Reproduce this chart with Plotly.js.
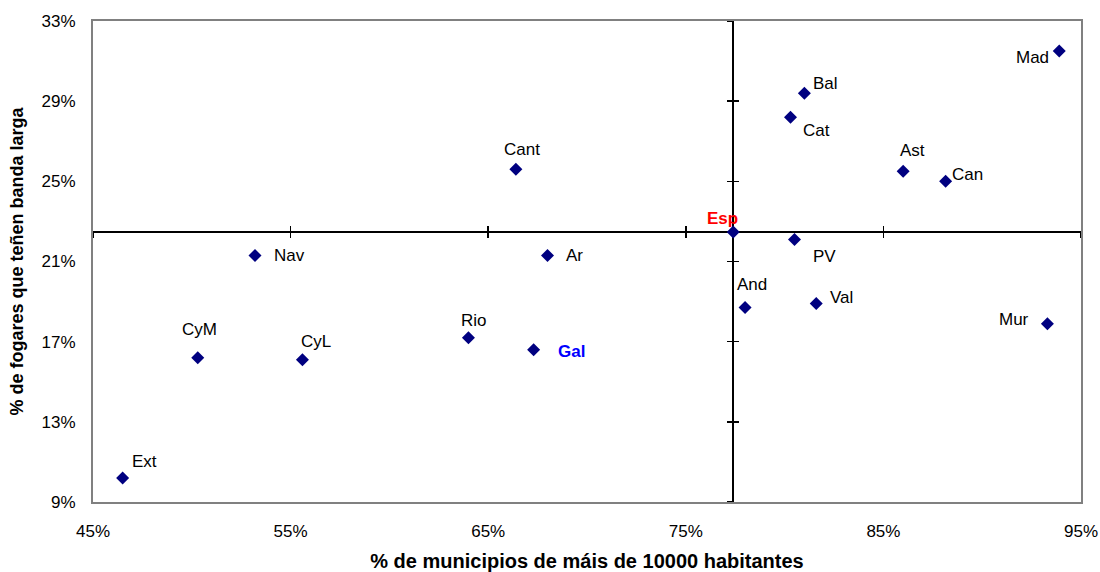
<!DOCTYPE html>
<html>
<head>
<meta charset="utf-8">
<script src="https://cdn.plot.ly/plotly-3.0.1.min.js"></script>
<style>html,body{margin:0;padding:0;background:#fff;}#chart{width:1100px;height:572px;}</style>
</head>
<body>
<div id="chart"></div>
<script>
// ---- data ----
var regions = ["Mad","Bal","Cat","Ast","Can","PV","Cant","Ar","Esp","Nav","CyM","CyL","Ext","Rio","Gal","And","Val","Mur"];
var pctMunicipios = [93.9, 81.0, 80.3, 86.0, 88.15, 80.5, 66.4, 68.0, 77.4, 53.2, 50.3, 55.6, 46.5, 64.0, 67.3, 78.0, 81.6, 93.3];
var pctFogares   = [31.5, 29.4, 28.2, 25.5, 25.0, 22.1, 25.6, 21.3, 22.47, 21.3, 16.2, 16.1, 10.2, 17.2, 16.6, 18.7, 18.9, 17.9];
var xTickVals = [45, 55, 65, 75, 85, 95];
var yTickVals = [9, 13, 17, 21, 25, 29, 33];
var xTitle = "% de municipios de máis de 10000 habitantes";
var yTitle = "% de fogares que teñen banda larga";

// label placement: [xanchor, xshift, yshift]
var labelPos = {
  Mad:["right",-8,-6], Bal:["left",7,10], Cat:["left",10,-13], Ast:["center",9,21],
  Can:["left",4,7], PV:["left",17,-17], Cant:["center",6,20], Ar:["left",17,0],
  Esp:["center",-11,14], Nav:["left",17,0], CyM:["center",2,28], CyL:["center",14,18],
  Ext:["center",22,16], Rio:["center",6,17], Gal:["left",22,-2], And:["center",7,23],
  Val:["left",12,6], Mur:["right",-16,4]
};
var labelStyle = {
  Esp:{color:"#FF0000", bold:true},
  Gal:{color:"#0000FF", bold:true}
};

var FONT = "'Liberation Sans', Arial, sans-serif";
var xr = [45, 95], yr = [9, 33];
var espIdx = regions.indexOf("Esp");
var crossYFrac = (pctFogares[espIdx] - yr[0]) / (yr[1] - yr[0]);
var crossXFrac = (pctMunicipios[espIdx] - xr[0]) / (xr[1] - xr[0]);

var traces = [
  {type:"scatter", mode:"markers", x:pctMunicipios, y:pctFogares, text:regions,
   marker:{symbol:"diamond", size:10, color:"#000080", line:{width:0}},
   hoverinfo:"text", showlegend:false, cliponaxis:false},
  {type:"scatter", x:[], y:[], xaxis:"x2", yaxis:"y2", showlegend:false},
  {type:"scatter", x:[], y:[], xaxis:"x3", yaxis:"y3", showlegend:false}
];

var annotations = regions.map(function(r, i){
  var p = labelPos[r], s = labelStyle[r] || {color:"#000000", bold:false};
  return {x:pctMunicipios[i], y:pctFogares[i], xref:"x", yref:"y",
    text: s.bold ? "<b>"+r+"</b>" : r, showarrow:false,
    xanchor:p[0], yanchor:"middle", xshift:p[1], yshift:p[2],
    font:{family:FONT, size:17, color:s.color}};
});

function crossX(ticks){
  return {overlaying:"x", anchor:"free", position:crossYFrac, range:xr, showline:true,
    linecolor:"#000", linewidth:2, ticks:ticks, ticklen:5, tickwidth:1.5, tickcolor:"#000",
    tickmode:"array", tickvals:xTickVals, showticklabels:false, showgrid:false, zeroline:false,
    layer:"below traces", fixedrange:true};
}
function crossY(ticks){
  return {overlaying:"y", anchor:"free", position:crossXFrac, range:yr, showline:true,
    linecolor:"#000", linewidth:2, ticks:ticks, ticklen:5, tickwidth:1.5, tickcolor:"#000",
    tickmode:"array", tickvals:yTickVals, showticklabels:false, showgrid:false, zeroline:false,
    layer:"below traces", fixedrange:true};
}

var layout = {
  width:1100, height:572,
  margin:{l:93, r:19, t:21, b:70},
  paper_bgcolor:"#fff", plot_bgcolor:"#fff",
  font:{family:FONT, size:17, color:"#000"},
  showlegend:false,
  xaxis:{range:xr, tickmode:"array", tickvals:xTickVals,
    ticktext:xTickVals.map(function(v){return v+"%";}),
    showline:true, mirror:true, linecolor:"#808080", linewidth:2,
    ticks:"", showgrid:false, zeroline:false, ticklabelstandoff:13,
    tickfont:{family:FONT, size:17, color:"#000"},
    title:{text:"<b>"+xTitle+"</b>", font:{family:FONT, size:20, color:"#000"}, standoff:18},
    fixedrange:true},
  yaxis:{range:yr, tickmode:"array", tickvals:yTickVals,
    ticktext:yTickVals.map(function(v){return v+"%";}),
    showline:true, mirror:true, linecolor:"#808080", linewidth:2,
    ticks:"", showgrid:false, zeroline:false, ticklabelstandoff:12,
    tickfont:{family:FONT, size:17, color:"#000"},
    title:{text:"<b>"+yTitle+"</b>", font:{family:FONT, size:18, color:"#000"}, standoff:13},
    fixedrange:true},
  xaxis2:crossX("outside"), yaxis2:crossY("outside"),
  xaxis3:crossX("inside"), yaxis3:crossY("inside"),
  annotations:annotations
};

Plotly.newPlot("chart", traces, layout, {displayModeBar:false, staticPlot:true});
</script>
</body>
</html>
